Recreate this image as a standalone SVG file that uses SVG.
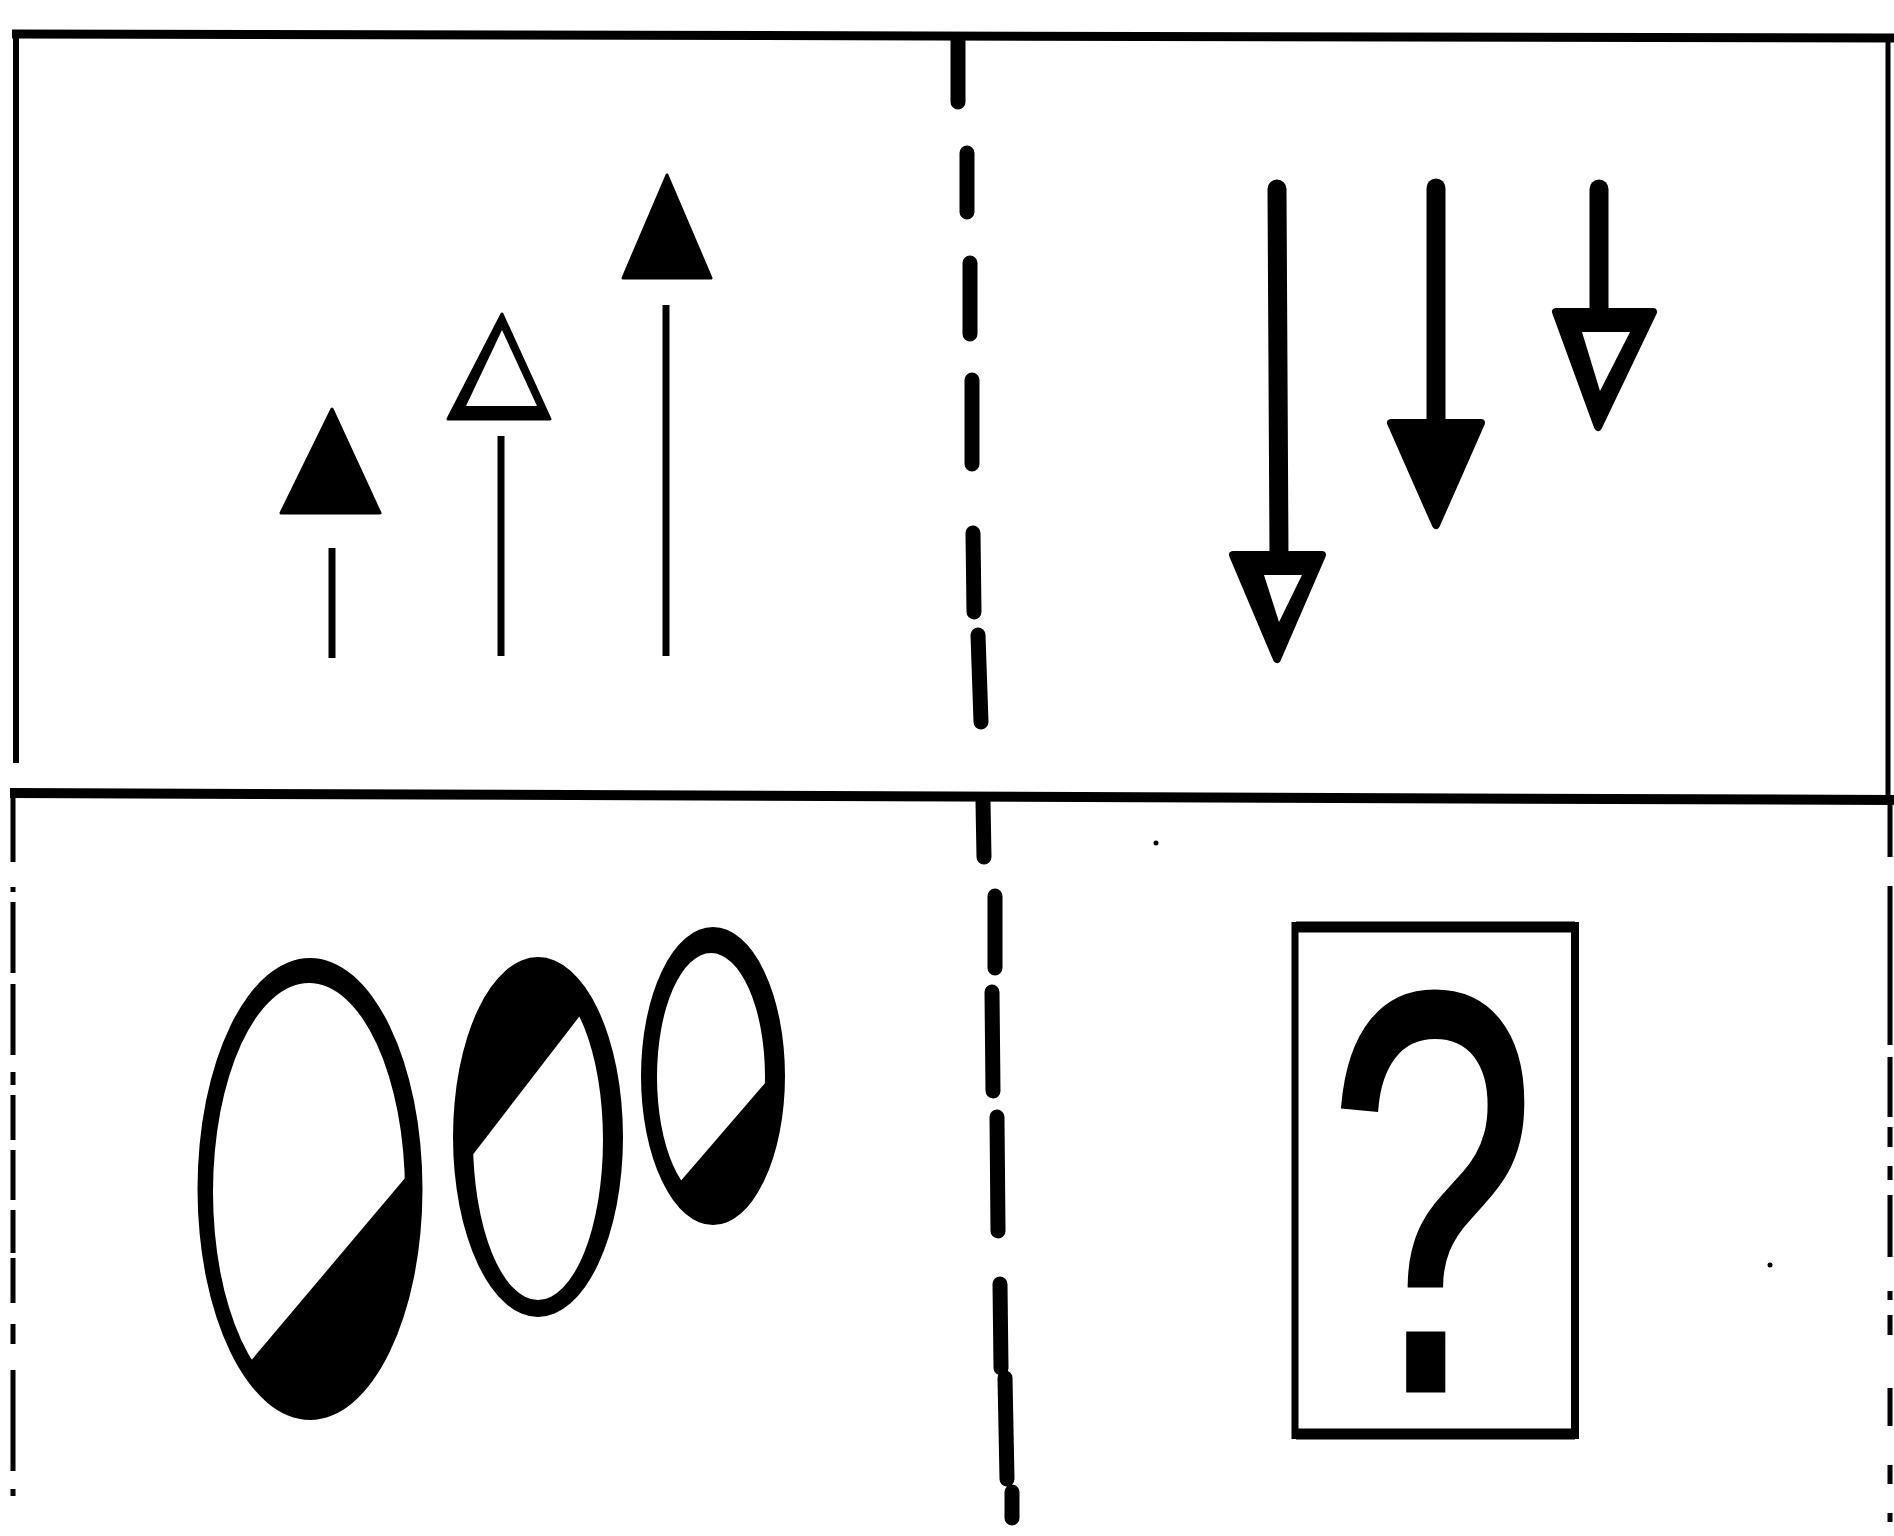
<svg xmlns="http://www.w3.org/2000/svg" width="1894" height="1536" viewBox="0 0 1894 1536">
<style>
  .frame { stroke:#000; fill:none; stroke-linecap:butt; }
  .div { stroke:#000; stroke-width:15; stroke-linecap:round; fill:none; }
  .stemT { stroke:#000; stroke-width:7; stroke-linecap:butt; fill:none; }
  .stemK { stroke:#000; stroke-width:19; stroke-linecap:round; fill:none; }
  .blk { fill:#000; stroke:#000; stroke-width:3; stroke-linejoin:round; }
  .blkR { fill:#000; stroke:#000; stroke-width:8; stroke-linejoin:round; }
  .wht { fill:#fff; }
  .ring { fill:#000; fill-rule:evenodd; }
  .q { font-family:"Liberation Sans", Arial, sans-serif; font-size:570px; fill:#000; stroke:#000; stroke-width:5; }
</style>
<defs>
  <clipPath id="cBig"><polygon points="173,1453 492,1075 520,1075 520,1470 173,1470"/></clipPath>
  <clipPath id="cMid"><polygon points="421,1222 636,943 636,900 400,900 400,1222"/></clipPath>
  <clipPath id="cSmall"><polygon points="629,1241 816,1024 830,1024 830,1270 629,1270"/></clipPath>
</defs>
<rect width="1894" height="1536" fill="#fff"/>

<g id="frame">
  <line class="frame" x1="12" y1="34" x2="1894" y2="38" stroke-width="9"/>
  <line class="frame" x1="16" y1="32" x2="16" y2="763" stroke-width="6"/>
  <line class="frame" x1="1888" y1="36" x2="1888" y2="798" stroke-width="5"/>
  <line class="frame" x1="10" y1="793" x2="1894" y2="800" stroke-width="10"/>
  <path class="frame" stroke-width="5" d="M13 791 V862 M13 887 V892 M13 902 V973 M13 984 V1055 M13 1072 V1085 M13 1095 V1140 M13 1150 V1200 M13 1210 V1253 M13 1258 V1303 M13 1324 V1344 M13 1370 V1471 M13 1489 V1496"/>
  <path class="frame" stroke-width="5" d="M1890 800 V857 M1890 886 V1045 M1890 1057 V1117 M1890 1127 V1147 M1890 1166 V1180 M1890 1195 V1257 M1890 1291 V1300 M1890 1315 V1335 M1890 1388 V1426 M1890 1465 V1484 M1890 1513 V1522"/>
</g>

<g id="divider-top">
  <path class="div" d="M958 40 L958 102 M967 153 L967 212 M970 263 L970 334 M972 380 L972 464 M973 533 L974 612 M978 635 L981 722"/>
</g>
<g id="divider-bottom">
  <path class="div" d="M983 802 L984 857 M995 896 L995 968 M992 992 L993 1091 M997 1117 L998 1231 M1000 1284 L1001 1368 M1005 1378 L1007 1479 M1012 1492 L1012 1518"/>
</g>

<g id="up-arrow-1">
  <polygon class="blk" points="332,409 380,513 281,513"/>
  <line class="stemT" x1="332" y1="548" x2="332" y2="658"/>
</g>
<g id="up-arrow-2">
  <polygon class="blk" points="502,314 550,419 448,419"/>
  <polygon class="wht" points="502,330 537,406 466,406"/>
  <line class="stemT" x1="501" y1="436" x2="501" y2="656"/>
</g>
<g id="up-arrow-3">
  <polygon class="blk" points="667,175 711,278 623,278"/>
  <line class="stemT" x1="666" y1="305" x2="666" y2="656"/>
</g>

<g id="down-arrow-1">
  <line class="stemK" x1="1277" y1="189" x2="1279" y2="556"/>
  <polygon class="blkR" points="1233,555 1322,555 1277,659"/>
  <polygon class="wht" points="1264,575 1302,575 1279,622"/>
</g>
<g id="down-arrow-2">
  <line class="stemK" x1="1436" y1="188" x2="1436" y2="425"/>
  <polygon class="blkR" points="1391,423 1481,423 1436,525"/>
</g>
<g id="down-arrow-3">
  <line class="stemK" x1="1599" y1="189" x2="1599" y2="314"/>
  <polygon class="blkR" points="1556,312 1653,312 1598,427"/>
  <polygon class="wht" points="1582,332 1630,332 1600,391"/>
</g>

<g id="oval-1">
  <path class="ring" d="M197.5 1189 a112.5 231 0 1 0 225 0 a112.5 231 0 1 0 -225 0 Z M213 1192 a96 209 0 1 0 192 0 a96 209 0 1 0 -192 0 Z"/>
  <ellipse cx="309" cy="1192" rx="97" ry="210" fill="#000" clip-path="url(#cBig)"/>
</g>
<g id="oval-2">
  <path class="ring" d="M453 1137 a85 180 0 1 0 170 0 a85 180 0 1 0 -170 0 Z M473 1140 a65 160 0 1 0 130 0 a65 160 0 1 0 -130 0 Z"/>
  <ellipse cx="538" cy="1140" rx="66" ry="161" fill="#000" clip-path="url(#cMid)"/>
</g>
<g id="oval-3">
  <path class="ring" d="M641 1076 a72 149 0 1 0 144 0 a72 149 0 1 0 -144 0 Z M657 1077 a54 124 0 1 0 108 0 a54 124 0 1 0 -108 0 Z"/>
  <ellipse cx="711" cy="1077" rx="55" ry="125" fill="#000" clip-path="url(#cSmall)"/>
</g>

<g id="answer-box">
  <line class="frame" x1="1296" y1="927" x2="1575" y2="927" stroke-width="11"/>
  <line class="frame" x1="1296" y1="1434" x2="1575" y2="1434" stroke-width="11"/>
  <line class="frame" x1="1295" y1="922" x2="1295" y2="1439" stroke-width="7"/>
  <line class="frame" x1="1575" y1="922" x2="1575" y2="1439" stroke-width="8"/>
  <text class="q" transform="translate(1432,1390) scale(0.66,1)" x="0" y="0" text-anchor="middle">?</text>
</g>

<g id="specks">
  <circle cx="1156" cy="843" r="2.5" fill="#000"/>
  <circle cx="1770" cy="1265" r="2.5" fill="#000"/>
</g>
</svg>
